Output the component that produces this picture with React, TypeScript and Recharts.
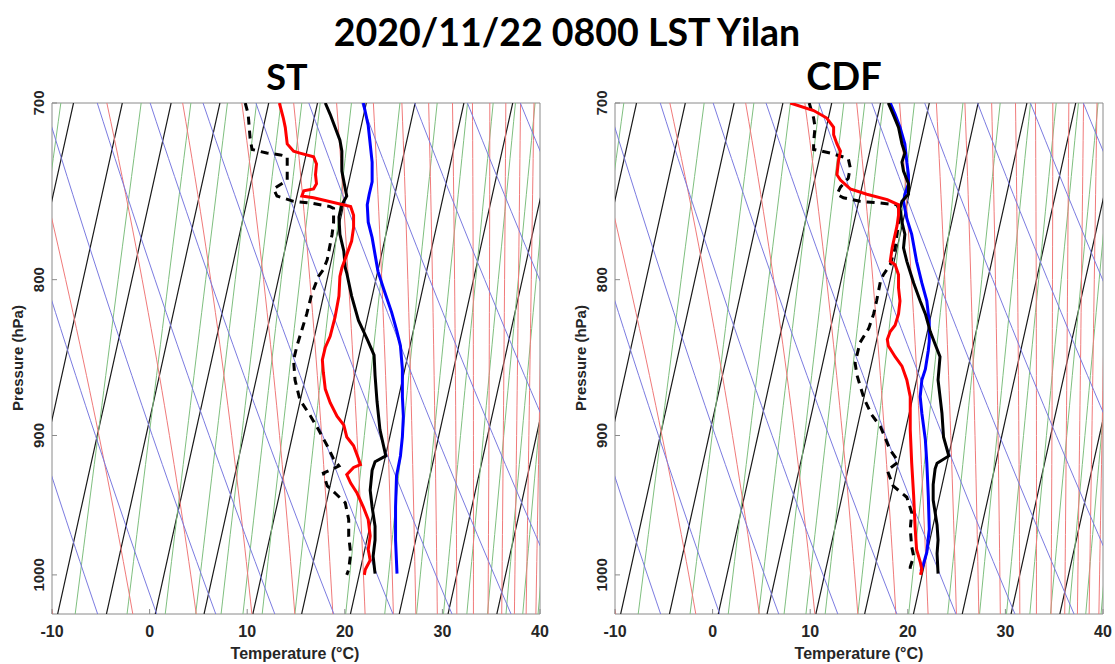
import React from 'react';
import { ScatterChart, Scatter, XAxis, YAxis, ReferenceArea } from 'recharts';

// axis ticks
const T_TICKS = [-10, 0, 10, 20, 30, 40];
const P_TICKS = [700, 800, 900, 1000];

// skew-T background families (same for both panels)
const ISOTHERMS = [-20, -15, -10, -5, 0, 5, 10, 15, 20, 25, 30, 35]; // degC
const DRY_THETA = [265, 271, 277, 283, 289, 295, 301, 307, 313, 319, 325, 331]; // K
const MOIST_BASE = [-10.5, -2.3, 4.2, 9.9, 14.3, 18.2, 21.5, 24.4, 26.7, 28.9, 30.9, 32.6, 34.1, 35.5, 36.8, 38.0, 39.0]; // degC at 1030 hPa
const MIX_RATIO = [1, 2, 3, 4, 5, 6, 7, 8, 10, 14, 18, 22, 26, 30, 34, 38, 42, 46]; // g/kg

// soundings, values are read on the (skewed) temperature axis
// ST panel
const stTempP = [700, 706, 713, 720, 726, 737, 747, 751, 756, 763, 773, 783, 793, 796, 810, 825, 837, 847, 860, 877, 896, 914, 918, 924, 938, 950, 964, 974, 986, 999];
const stTemp = [18.0, 18.5, 19.0, 19.5, 19.7, 19.7, 20.05, 20.2, 19.7, 19.4, 19.5, 19.9, 20.05, 20.2, 20.7, 21.4, 22.3, 23.0, 23.1, 23.3, 23.6, 24.2, 23.1, 22.8, 22.6, 22.8, 23.1, 23.1, 22.9, 23.1];
const stDewP = [700, 706, 719, 725, 727, 728, 729, 737, 742, 747, 751, 754, 755, 757, 758, 766, 773, 788, 794, 798, 809, 821, 831, 841, 850, 863, 876, 887, 896, 907, 916, 921, 926, 935, 940, 947, 959, 971, 984, 996, 1000];
const stDew = [9.8, 10.1, 10.3, 10.5, 12.0, 13.4, 14.1, 14.1, 14.1, 12.7, 13.05, 14.75, 16.5, 18.5, 18.85, 18.85, 18.7, 18.2, 17.8, 17.3, 16.6, 16.1, 15.6, 15.1, 14.75, 14.9, 15.4, 16.5, 17.3, 18.2, 18.85, 19.4, 17.8, 18.2, 19.0, 20.05, 20.4, 20.4, 20.6, 20.4, 20.2];
const stRedP = [700, 708, 713, 722, 726, 727, 729, 733, 739, 744, 747, 748, 751, 752, 757, 762, 769, 777, 785, 793, 798, 810, 823, 835, 842, 850, 858, 869, 878, 887, 893, 901, 907, 916, 920, 922, 927, 933, 940, 950, 959, 971, 981, 989, 996, 1000];
const stRed = [13.3, 13.7, 13.9, 14.1, 14.75, 15.4, 16.8, 17.1, 17.0, 17.1, 16.8, 15.8, 15.6, 16.8, 20.6, 20.9, 20.9, 20.7, 20.2, 19.7, 19.5, 19.4, 19.0, 18.5, 18.0, 17.7, 17.8, 18.0, 18.5, 19.2, 19.9, 20.2, 20.9, 21.4, 21.6, 20.9, 20.2, 20.6, 21.25, 21.9, 22.4, 22.6, 22.4, 22.6, 22.1, 22.0];
const stBlueP = [700, 712, 722, 732, 743, 750, 756, 766, 775, 785, 795, 806, 820, 831, 841, 856, 874, 887, 901, 914, 928, 950, 974, 999];
const stBlue = [21.9, 22.4, 22.6, 22.8, 22.8, 22.5, 22.3, 22.4, 22.8, 23.1, 23.4, 24.0, 24.8, 25.3, 25.7, 25.9, 25.9, 26.0, 25.9, 25.7, 25.3, 25.2, 25.2, 25.35];

// CDF panel
const cdfTempP = [700, 706, 713, 722, 727, 732, 737, 744, 750, 754, 758, 766, 773, 781, 789, 802, 813, 821, 832, 840, 848, 863, 885, 901, 914, 919, 923, 934, 945, 954, 963, 974, 984, 999];
const cdfTemp = [18.0, 18.5, 19.05, 19.4, 19.7, 19.4, 19.56, 20.07, 20.07, 19.4, 19.2, 19.4, 19.7, 19.56, 19.9, 20.6, 21.27, 21.8, 22.3, 22.8, 23.3, 23.1, 23.5, 23.66, 24.2, 23.0, 22.8, 22.6, 22.6, 22.8, 23.0, 23.1, 23.0, 23.1];
const cdfDewP = [700, 708, 713, 721, 725, 727, 730, 735, 741, 746, 750, 752, 754, 755, 756, 758, 766, 773, 781, 791, 797, 801, 813, 821, 830, 839, 852, 860, 875, 886, 894, 910, 918, 924, 935, 943, 954, 966, 979, 986, 994, 998];
const cdfDew = [9.9, 10.35, 10.5, 10.35, 10.35, 12.06, 13.9, 14.1, 13.9, 13.1, 12.74, 13.4, 15.1, 17.2, 18.9, 19.05, 19.05, 18.9, 18.7, 18.2, 17.5, 17.2, 16.8, 16.5, 16.0, 15.1, 14.6, 14.8, 15.5, 16.3, 17.2, 18.2, 19.05, 17.9, 18.5, 19.9, 20.4, 20.25, 20.4, 20.6, 20.25, 20.25];
const cdfRedP = [700, 704, 708, 713, 717, 722, 726, 731, 739, 742, 747, 750, 753, 756, 762, 768, 773, 781, 789, 791, 797, 805, 813, 821, 828, 832, 837, 841, 848, 854, 863, 874, 896, 919, 942, 966, 981, 991, 996, 1000];
const cdfRed = [7.96, 10.35, 11.7, 12.4, 12.4, 12.74, 13.1, 12.9, 12.74, 13.1, 14.1, 15.8, 17.9, 19.05, 19.05, 18.9, 18.7, 18.4, 18.2, 18.7, 19.05, 19.05, 19.2, 19.05, 18.7, 18.2, 17.9, 18.0, 18.7, 19.4, 19.9, 20.25, 20.25, 20.4, 20.6, 20.76, 20.9, 21.3, 21.44, 21.3];
const cdfBlueP = [700, 706, 713, 722, 732, 739, 744, 750, 754, 764, 773, 789, 802, 813, 826, 838, 844, 856, 863, 874, 885, 903, 919, 942, 966, 983, 992, 997];
const cdfBlue = [18.2, 18.7, 19.2, 19.7, 19.9, 20.07, 20.07, 19.7, 19.56, 19.9, 20.4, 20.9, 21.44, 21.95, 22.2, 22.2, 22.1, 21.8, 21.44, 21.27, 21.44, 21.8, 21.95, 22.1, 22.2, 21.95, 21.6, 21.34];

// skew-T geometry
const SKEW = 30.1;
const P_BASE = 1050;
const P_TOP = 700;
const P_BOT = 1030;
const LEVELS = Array.from({ length: 34 }, (_, i) => P_BOT - i * 10);
const skew = (t: number, p: number) => t + SKEW * Math.log(P_BASE / p);

const RD = 287.04, CP = 1005.7, LV = 2.501e6, EPS = 0.622;
const esat = (tc: number) => 6.112 * Math.exp((17.67 * tc) / (tc + 243.5));
const moistRate = (tk: number, p: number) => {
  const e = esat(tk - 273.15);
  const rs = (EPS * e) / (p - e);
  return (RD * tk + LV * rs) / (CP + (LV * LV * rs * EPS) / (RD * tk * tk)) / p;
};

const isotherm = (t: number) => LEVELS.map(p => ({ x: skew(t, p), p }));
const dryAdiabat = (th: number) => LEVELS.map(p => ({ x: skew(th * Math.pow(p / 1000, 0.2857) - 273.15, p), p }));
const mixLine = (w: number) => LEVELS.map(p => {
  const l = Math.log((w * p) / (622 + w) / 6.112);
  return { x: skew((243.5 * l) / (17.67 - l), p), p };
});
const moistAdiabat = (t0: number) => {
  let tk = t0 + 273.15;
  let p = P_BOT;
  const pts = [{ x: skew(t0, p), p }];
  while (p > P_TOP) {
    const dp = -5;
    const k1 = moistRate(tk, p);
    const k2 = moistRate(tk + k1 * dp, p + dp);
    tk += 0.5 * (k1 + k2) * dp;
    p += dp;
    if (p % 10 === 0) pts.push({ x: skew(tk - 273.15, p), p });
  }
  return pts;
};

const zip = (ps: number[], xs: number[]) => ps.map((p, i) => ({ p, x: xs[i] }));

const BG = [
  ...ISOTHERMS.map(t => ({ key: 'iso' + t, data: isotherm(t), color: '#1a1a1a', w: 1.2 })),
  ...MIX_RATIO.map(w => ({ key: 'mix' + w, data: mixLine(w), color: '#7fbf7f', w: 1 })),
  ...MOIST_BASE.map(t => ({ key: 'moist' + t, data: moistAdiabat(t), color: '#f07a7a', w: 1 })),
  ...DRY_THETA.map(th => ({ key: 'dry' + th, data: dryAdiabat(th), color: '#7b7be0', w: 1 })),
];

const FONT = 'Liberation Sans, Arial, sans-serif';
const TITLE_FONT = 'Lato, sans-serif';
const noDot = () => null;

const XTick = ({ x, y, payload }: any) => (
  <g>
    <line x1={x} y1={y} x2={x} y2={y - 5} stroke="#8a8a8a" />
    <text x={x} y={y + 23} textAnchor="middle" fontFamily={FONT} fontWeight="bold" fontSize={16} fill="#262626">
      {payload.value}
    </text>
  </g>
);
const TopTick = ({ x, y }: any) => <line x1={x} y1={y} x2={x} y2={y + 5} stroke="#8a8a8a" />;
const YTick = ({ x, y, payload }: any) => (
  <g>
    <line x1={x} y1={y} x2={x + 5} y2={y} stroke="#8a8a8a" />
    <text x={x - 8} y={y} transform={`rotate(-90 ${x - 8} ${y})`} textAnchor="middle" fontFamily={FONT} fontWeight="bold" fontSize={15} fill="#262626">
      {payload.value}
    </text>
  </g>
);
const RightTick = ({ x, y }: any) => <line x1={x} y1={y} x2={x - 5} y2={y} stroke="#8a8a8a" />;

function curve(key: string, data: any[], color: string, width: number, dash?: string) {
  return (
    <Scatter
      key={key}
      data={data}
      fill={color}
      line={{ stroke: color, strokeWidth: width, strokeDasharray: dash }}
      lineType="joint"
      shape={noDot}
      legendType="none"
      isAnimationActive={false}
    />
  );
}

function Panel({ left, width, margin, temp, dew, red, blue }: any) {
  return (
    <div style={{ position: 'absolute', left, top: 0 }}>
      <ScatterChart width={width} height={664} margin={margin}>
        <XAxis dataKey="x" type="number" domain={[-10, 40]} ticks={T_TICKS} allowDataOverflow
          height={40} tickSize={0} tickMargin={0} axisLine={false} tickLine={false} tick={<XTick />} />
        <XAxis xAxisId="top" orientation="top" type="number" domain={[-10, 40]} ticks={T_TICKS}
          height={0} tickSize={0} tickMargin={0} axisLine={false} tickLine={false} tick={<TopTick />} />
        <YAxis dataKey="p" type="number" scale="log" domain={[P_TOP, P_BOT]} ticks={P_TICKS} reversed allowDataOverflow
          width={30} tickSize={0} tickMargin={0} axisLine={false} tickLine={false} tick={<YTick />} />
        <YAxis yAxisId="right" orientation="right" type="number" scale="log" domain={[P_TOP, P_BOT]} ticks={P_TICKS} reversed
          width={0} tickSize={0} tickMargin={0} axisLine={false} tickLine={false} tick={<RightTick />} />
        {BG.map(b => curve(b.key, b.data, b.color, b.w))}
        {curve('blue', blue, '#0000ff', 3)}
        {curve('temp', temp, '#000000', 3)}
        {curve('dew', dew, '#000000', 3, '8 6')}
        {curve('red', red, '#ff0000', 3)}
        <ReferenceArea x1={-10} x2={40} y1={P_TOP} y2={P_BOT} fill="none" stroke="#8a8a8a" strokeWidth={1} ifOverflow="visible" />
      </ScatterChart>
    </div>
  );
}

export default function App() {
  return (
    <div style={{ position: 'absolute', left: 0, top: 0, width: 1115, height: 664, background: '#fff', overflow: 'hidden' }}>
      <Panel left={0} width={557} margin={{ top: 103, right: 17, bottom: 10, left: 22 }}
        temp={zip(stTempP, stTemp)} dew={zip(stDewP, stDew)} red={zip(stRedP, stRed)} blue={zip(stBlueP, stBlue)} />
      <Panel left={557} width={558} margin={{ top: 103, right: 12, bottom: 10, left: 28 }}
        temp={zip(cdfTempP, cdfTemp)} dew={zip(cdfDewP, cdfDew)} red={zip(cdfRedP, cdfRed)} blue={zip(cdfBlueP, cdfBlue)} />
      <svg width={1115} height={664} style={{ position: 'absolute', left: 0, top: 0, pointerEvents: 'none' }}>
        <text x={567} y={46} textAnchor="middle" fontFamily={TITLE_FONT} fontWeight="bold" fontSize={37.5} fill="#000">2020/11/22 0800 LST Yilan</text>
        <text x={287} y={90} textAnchor="middle" fontFamily={TITLE_FONT} fontWeight="bold" fontSize={36} fill="#000">ST</text>
        <text x={844} y={90} textAnchor="middle" fontFamily={TITLE_FONT} fontWeight="bold" fontSize={38} fill="#000">CDF</text>
        <text x={295} y={659} textAnchor="middle" fontFamily={FONT} fontWeight="bold" fontSize={16} fill="#262626">Temperature (°C)</text>
        <text x={859} y={659} textAnchor="middle" fontFamily={FONT} fontWeight="bold" fontSize={16} fill="#262626">Temperature (°C)</text>
        <text x={23} y={358} transform="rotate(-90 23 358)" textAnchor="middle" fontFamily={FONT} fontWeight="bold" fontSize={15} fill="#262626">Pressure (hPa)</text>
        <text x={586} y={358} transform="rotate(-90 586 358)" textAnchor="middle" fontFamily={FONT} fontWeight="bold" fontSize={15} fill="#262626">Pressure (hPa)</text>
      </svg>
    </div>
  );
}
